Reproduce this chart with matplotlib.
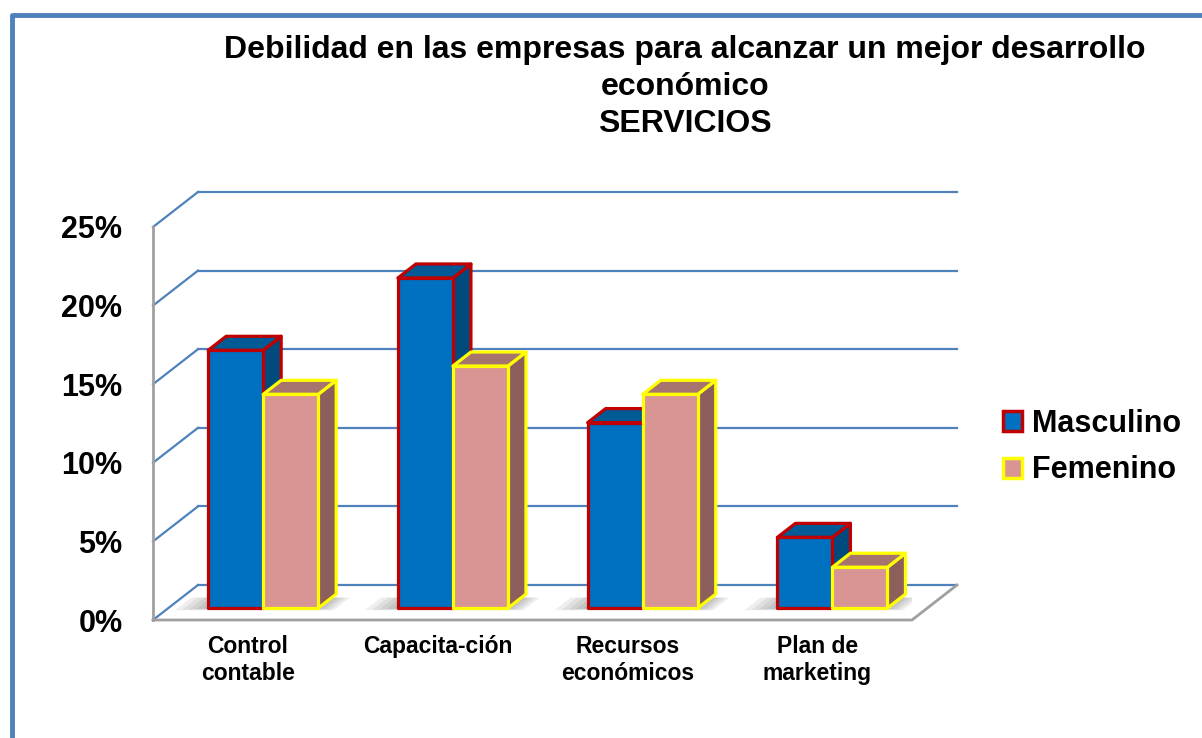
import matplotlib
matplotlib.use("Agg")
import matplotlib.pyplot as plt
from matplotlib.patches import Polygon, Patch
from matplotlib.lines import Line2D

plt.rcParams['font.family'] = ['Liberation Sans', 'DejaVu Sans']

# datos (porcentajes)
categorias = ["Control\ncontable", "Capacita-ción", "Recursos\neconómicos", "Plan de\nmarketing"]
masculino = [16.4, 21.0, 11.8, 4.5]
femenino = [13.6, 15.4, 13.6, 2.6]
ticks_y = [0, 5, 10, 15, 20, 25]
series = ["Masculino", "Femenino"]

titulo = "Debilidad en las empresas para alcanzar un mejor desarrollo\neconómico\nSERVICIOS"

# colores: frente, tapa, lado, borde
col_m = ("#0070C0", "#005A96", "#004A7E", "#C00000")
col_f = ("#D99594", "#A6736E", "#8C5E5C", "#FFFF00")
azul_grid = "#4F81BD"
gris = "#A0A0A0"

W, H = 1202, 738
fig = plt.figure(figsize=(W / 100, H / 100), dpi=100)
ax = fig.add_axes([153 / W, (H - 620) / H, 759 / W, 393 / H])
n = len(categorias)
ymax = ticks_y[-1]
ax.set_xlim(0, n)
ax.set_ylim(0, ymax)

# profundidad del piso (oblicua), en unidades de datos
DX = 45 / 759 * n
DY = 35 / 393 * ymax
ancho = 0.29
d0, d1 = 0.34, 0.74


def cubo(x0, x1, h, cols):
    ox0, oy0 = d0 * DX, d0 * DY
    ox1, oy1 = d1 * DX, d1 * DY
    front, top, side, edge = cols
    caras = [
        ([(x1 + ox0, oy0), (x1 + ox1, oy1), (x1 + ox1, h + oy1), (x1 + ox0, h + oy0)], side),
        ([(x0 + ox0, h + oy0), (x1 + ox0, h + oy0), (x1 + ox1, h + oy1), (x0 + ox1, h + oy1)], top),
        ([(x0 + ox0, oy0), (x1 + ox0, oy0), (x1 + ox0, h + oy0), (x0 + ox0, h + oy0)], front),
    ]
    for pts, c in caras:
        ax.add_patch(Polygon(pts, closed=True, facecolor=c, edgecolor=edge,
                             linewidth=2.3, joinstyle='round', zorder=5, clip_on=False))


def sombra(x0, x1):
    # sombra difusa en el piso, hecha con capas semitransparentes
    for k in range(5):
        e = 0.16 - k * 0.035
        dd = 0.06 - k * 0.012
        pts = [(x0 - e + (d0 - dd) * DX, (d0 - dd) * DY),
               (x1 + e * 0.6 + (d0 - dd) * DX, (d0 - dd) * DY),
               (x1 + e * 0.6 + (d1 - 0.1) * DX, (d1 - 0.1) * DY),
               (x0 - e + (d1 - 0.1) * DX, (d1 - 0.1) * DY)]
        ax.add_patch(Polygon(pts, closed=True, facecolor="#303030", edgecolor="none",
                             alpha=0.08, zorder=3))


# paredes y cuadricula
for v in ticks_y:
    ax.plot([DX, n + DX], [v + DY, v + DY], color=azul_grid, lw=1.6, zorder=2, clip_on=False)
    ax.plot([0, DX], [v, v + DY], color=azul_grid, lw=1.6, zorder=2, clip_on=False)
ax.plot([0, 0], [0, ymax], color=gris, lw=2, zorder=2, clip_on=False)
ax.plot([0, n, n + DX], [0, 0, DY], color=gris, lw=2, zorder=2, clip_on=False)

# barras
for i in range(n):
    c = i + 0.5
    sombra(c - ancho, c + ancho)
    cubo(c - ancho, c, masculino[i], col_m)
    cubo(c, c + ancho, femenino[i], col_f)

for s in ax.spines.values():
    s.set_visible(False)
ax.set_yticks(ticks_y)
ax.set_yticklabels([f"{v}%" for v in ticks_y], fontsize=22, fontweight='bold')
ax.set_xticks([i + 0.5 for i in range(n)])
ax.set_xticklabels(categorias, fontsize=16.5, fontweight='bold', linespacing=1.2)
ax.tick_params(axis='y', length=0, pad=22)
ax.tick_params(axis='x', length=0, pad=11)
ax.patch.set_visible(False)

# leyenda
handles = [Patch(facecolor=col_m[0], edgecolor=col_m[3], linewidth=2.5),
           Patch(facecolor=col_f[0], edgecolor=col_f[3], linewidth=2.5)]
fig.legend(handles, series, loc='center left', bbox_to_anchor=(976 / W, 1 - 447 / H),
           frameon=False, prop=dict(weight='bold', size=22), handlelength=0.62,
           handleheight=0.62, handletextpad=0.3, labelspacing=0.55)

fig.text(685 / W, 1 - 87 / H, titulo, ha='center', va='center', fontsize=23,
         fontweight='bold', linespacing=1.3)

# marco
fig.add_artist(Line2D([12 / W, 12 / W, 1], [0, 1 - 15 / H, 1 - 15 / H],
                      transform=fig.transFigure, color=azul_grid, lw=3.5))

fig.savefig("out.png", dpi=100)
